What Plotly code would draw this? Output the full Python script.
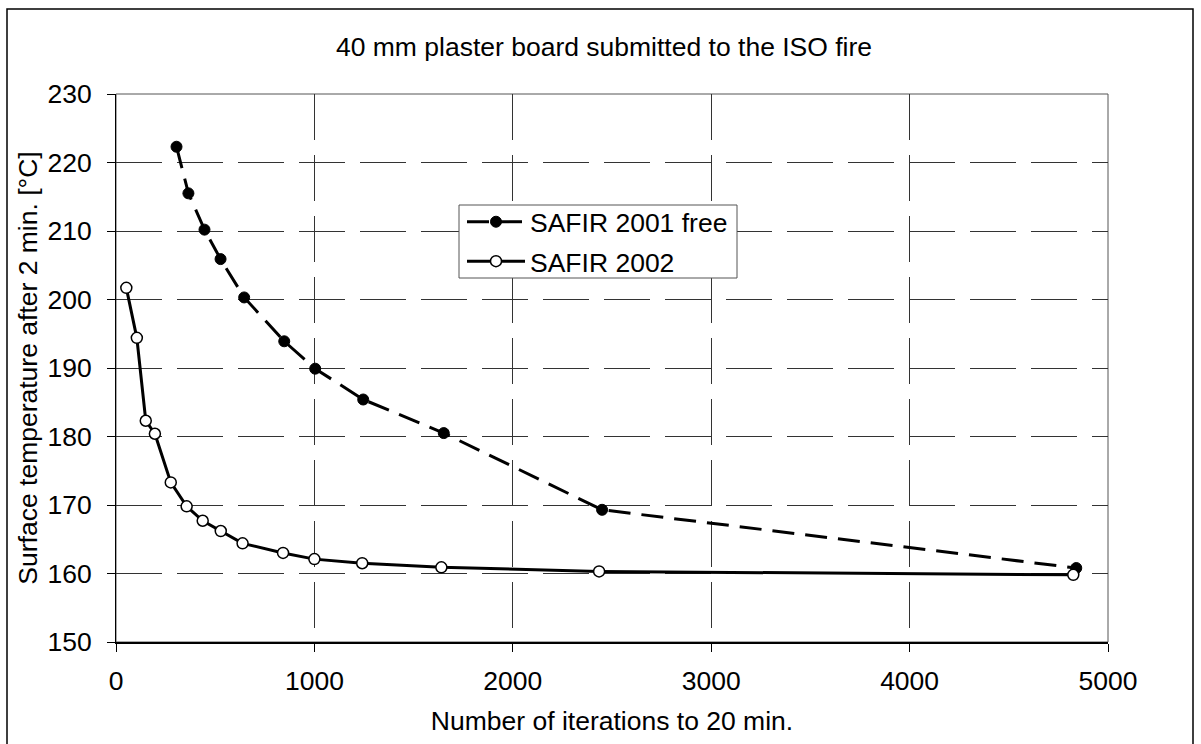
import plotly.graph_objects as go

# ---- data ----
safir2001_x = [305, 365, 446, 527, 646, 848, 1004, 1246, 1652, 2450, 4840]
safir2001_y = [222.3, 215.5, 210.2, 205.9, 200.3, 193.9, 189.9, 185.4, 180.5, 169.3, 160.8]

safir2002_x = [52, 105, 150, 196, 276, 356, 437, 528, 638, 842, 1000, 1241, 1640, 2435, 4825]
safir2002_y = [201.7, 194.4, 182.3, 180.4, 173.3, 169.8, 167.7, 166.2, 164.4, 163.0, 162.1,
               161.5, 160.9, 160.3, 159.8]

series_names = ["SAFIR 2001 free", "SAFIR 2002"]
x_ticks = [0, 1000, 2000, 3000, 4000, 5000]
y_ticks = [150, 160, 170, 180, 190, 200, 210, 220, 230]

title_text = "40 mm plaster board submitted to the ISO fire"
x_title = "Number of iterations to 20 min."
y_title = "Surface temperature after 2 min. [°C]"

FONT = "Liberation Sans, Arial, sans-serif"
FS = 26.5

W, H = 1201, 744
ML, MR, MT, MB = 116, 93, 94, 102
pw = W - ML - MR
ph = H - MT - MB


def px_x(p):
    return (p - ML) / pw


def px_y(p):
    return (H - MB - p) / ph


fig = go.Figure()
fig.add_trace(go.Scatter(
    x=safir2001_x, y=safir2001_y, name=series_names[0], mode="lines+markers",
    legendgroup="a",
    line=dict(color="black", width=3, dash="22px,11px"),
    marker=dict(symbol="circle", size=11, color="black", line=dict(color="black", width=1)),
))
fig.add_trace(go.Scatter(
    x=safir2002_x, y=safir2002_y, name=series_names[1], mode="lines+markers",
    legendgroup="b",
    line=dict(color="black", width=3),
    marker=dict(symbol="circle", size=11, color="white", line=dict(color="black", width=1.5)),
))

grid = dict(showgrid=True, gridcolor="#333333", gridwidth=1, griddash="46px,15px")

fig.update_xaxes(
    range=[0, 5000], tickvals=x_ticks, ticktext=[str(v) for v in x_ticks],
    ticks="outside", ticklen=8, tickcolor="black", tickwidth=1,
    showline=True, linecolor="black", linewidth=2, zeroline=False,
    tickfont=dict(family=FONT, size=FS, color="black"),
    ticklabelstandoff=6,
    title=dict(text=x_title, font=dict(family=FONT, size=FS, color="black"), standoff=17),
    **grid,
)
fig.update_yaxes(
    range=[150, 230], tickvals=y_ticks, ticktext=[str(v) for v in y_ticks],
    ticks="outside", ticklen=8, tickcolor="black", tickwidth=1,
    showline=True, linecolor="black", linewidth=1, zeroline=False,
    tickfont=dict(family=FONT, size=FS, color="black"),
    ticklabelstandoff=10,
    title=dict(text=y_title, font=dict(family=FONT, size=FS, color="black"), standoff=2),
    **grid,
)

# plot-area frame (top / right)
fig.add_shape(type="rect", xref="paper", yref="paper", x0=0, x1=1, y0=0, y1=1,
              line=dict(color="#555555", width=1), layer="below")
# outer chart border
fig.add_shape(type="rect", xref="paper", yref="paper",
              x0=px_x(7), x1=px_x(1193), y0=px_y(760), y1=px_y(9),
              line=dict(color="black", width=1.5), layer="below")
# legend box
fig.add_shape(type="rect", xref="paper", yref="paper",
              x0=px_x(459), x1=px_x(737), y0=px_y(278), y1=px_y(205),
              line=dict(color="#555555", width=1), fillcolor="white", layer="above")

fig.update_layout(
    width=W, height=H,
    margin=dict(l=ML, r=MR, t=MT, b=MB, autoexpand=False),
    paper_bgcolor="white", plot_bgcolor="white",
    title=dict(text=title_text, x=604 / W, xanchor="center", y=1 - 47 / H, yanchor="middle",
               font=dict(family=FONT, size=FS, color="black")),
    showlegend=True,
    legend=dict(
        x=px_x(462), y=px_y(198), xanchor="left", yanchor="top",
        bgcolor="rgba(0,0,0,0)", borderwidth=0,
        font=dict(family=FONT, size=FS, color="black"),
        itemwidth=58, tracegroupgap=2,
    ),
)

fig.write_html("out.html", config={"displayModeBar": False},
               post_script="document.body.style.margin='0px';")
